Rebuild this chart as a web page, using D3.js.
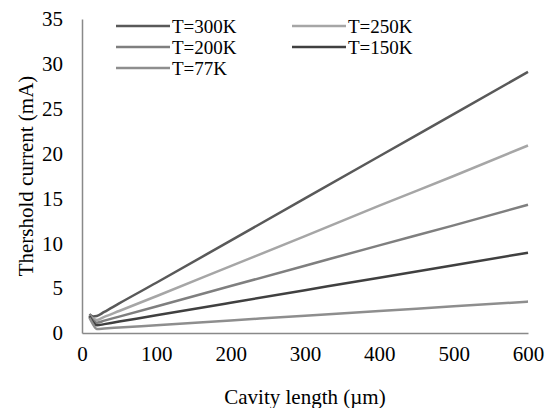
<!DOCTYPE html>
<html>
<head>
<meta charset="utf-8">
<script src="https://cdn.jsdelivr.net/npm/d3@7"></script>
</head>
<body style="margin:0;background:#fff;">
<div id="chart"></div>
<script>
// cavity length (µm)
var lengths = [10, 15, 20, 30, 50, 100, 200, 300, 400, 500, 600];

// threshold current (mA) per temperature
var t300 = [2.1, 1.85, 1.9, 2.35, 3.3, 5.6, 10.3, 15.0, 19.7, 24.4, 29.1];
var t250 = [2.0, 1.6, 1.45, 1.8, 2.45, 4.1, 7.45, 10.8, 14.2, 17.5, 20.9];
var t200 = [1.95, 1.4, 1.15, 1.38, 1.83, 2.96, 5.23, 7.5, 9.77, 12.0, 14.3];
var t150 = [1.85, 1.2, 0.85, 0.99, 1.27, 1.97, 3.37, 4.77, 6.17, 7.56, 8.95];
var t77  = [1.7, 0.95, 0.45, 0.5, 0.61, 0.87, 1.4, 1.92, 2.45, 2.97, 3.5];

var seriesNames = ["T=300K", "T=250K", "T=200K", "T=150K", "T=77K"];
var seriesValues = [t300, t250, t200, t150, t77];
var seriesColors = ["#595959", "#a6a6a6", "#7f7f7f", "#404040", "#8e8e8e"];

var xTicks = [0, 100, 200, 300, 400, 500, 600];
var yTicks = [0, 5, 10, 15, 20, 25, 30, 35];

var fuente = '"Liberation Serif", "Times New Roman", serif';
var tam = '21px';

var width = 549, height = 408;
var margin = {top: 19, right: 21, bottom: 75, left: 82};

var svg = d3.select('#chart')
    .append('svg')
        .attr('width', width)
        .attr('height', height);

var x = d3.scaleLinear()
    .domain([0, 600])
    .range([margin.left, width - margin.right]);

var y = d3.scaleLinear()
    .domain([0, 35])
    .range([height - margin.bottom, margin.top]);

// axis lines (no tick marks)
var xAxis = svg.append('g')
    .attr('transform', 'translate(0,' + y(0) + ')')
    .call(d3.axisBottom(x).tickValues(xTicks).tickSize(0).tickPadding(13));
var yAxis = svg.append('g')
    .attr('transform', 'translate(' + x(0) + ',0)')
    .call(d3.axisLeft(y).tickValues(yTicks).tickSize(0).tickPadding(19));

[xAxis, yAxis].forEach(function (a) {
    a.attr('font-family', null).attr('font-size', null);
    a.select('.domain').attr('stroke', '#898989').attr('stroke-width', 1.5);
    a.selectAll('text')
        .style('font-family', fuente)
        .style('font-size', tam)
        .attr('fill', '#000');
});

// lines
var line = d3.line()
    .x(function (d, i) { return x(lengths[i]); })
    .y(function (d) { return y(d); })
    .curve(d3.curveMonotoneX);

svg.selectAll('.serie')
    .data(seriesValues)
    .enter()
    .append('path')
        .attr('class', 'serie')
        .attr('d', line)
        .attr('fill', 'none')
        .attr('stroke', function (d, i) { return seriesColors[i]; })
        .attr('stroke-width', 2.5);

// legend
var legendX = [116, 292];
var legendY = [26, 47, 68];

var leyenda = svg.selectAll('.leyenda')
    .data(seriesNames)
    .enter()
    .append('g')
    .attr('class', 'leyenda')
    .attr('transform', function (d, i) {
        return 'translate(' + legendX[i % 2] + ',' + legendY[Math.floor(i / 2)] + ')';
    });

leyenda.append('line')
    .attr('x1', 0)
    .attr('x2', 54)
    .attr('stroke', function (d, i) { return seriesColors[i]; })
    .attr('stroke-width', 2.5);

leyenda.append('text')
    .attr('x', 56)
    .attr('y', 7)
    .style('font-size', '19px')
    .style('font-family', fuente)
    .text(function (d) { return d; });

// axis titles
svg.append('text')
    .attr('x', (x(0) + x(600)) / 2)
    .attr('y', 404)
    .attr('text-anchor', 'middle')
    .style('font-size', tam)
    .style('font-family', fuente)
    .text('Cavity length (\u00b5m)');

svg.append('text')
    .attr('transform', 'translate(33,' + (y(0) + y(35)) / 2 + ') rotate(-90)')
    .attr('text-anchor', 'middle')
    .style('font-size', tam)
    .style('font-family', fuente)
    .text('Thershold current (mA)');
</script>
</body>
</html>
